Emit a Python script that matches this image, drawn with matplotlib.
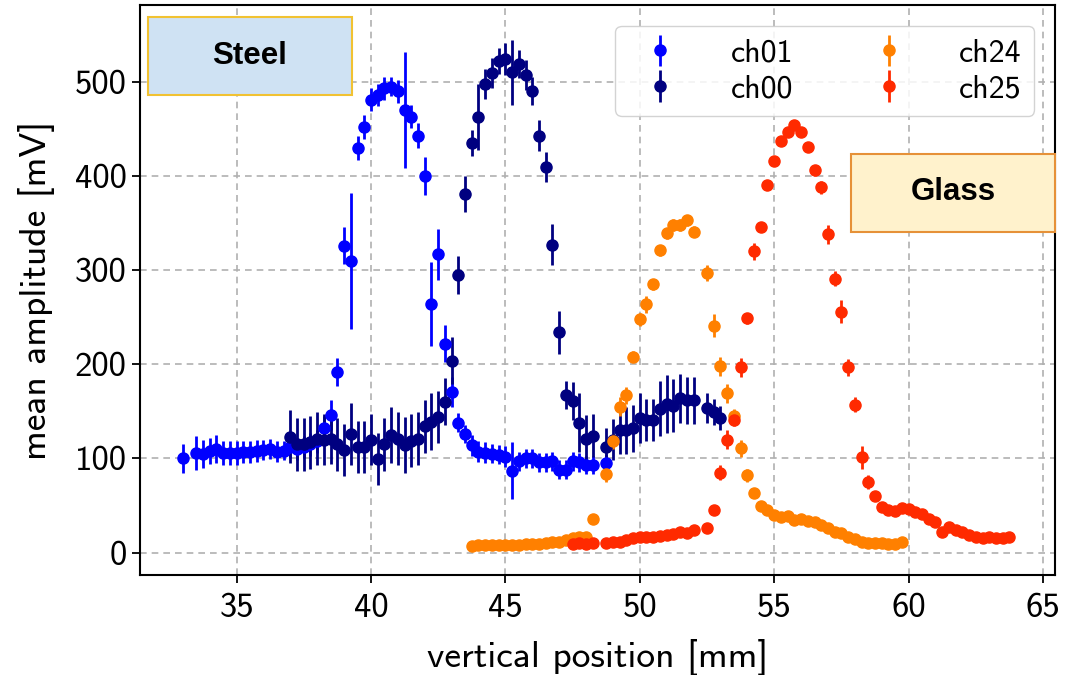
import numpy as np
import matplotlib.pyplot as plt
from matplotlib.patches import Rectangle

plt.rcParams['font.family'] = ['cmss10', 'DejaVu Sans']
plt.rcParams['axes.unicode_minus'] = False

# ch01 (blue)
x_ch01 = [33.0, 33.5, 33.75, 34.0, 34.25, 34.5, 34.75, 35.0, 35.25, 35.5, 35.75, 36.0, 36.25, 36.5, 36.75,
          37.0, 37.25, 37.5, 37.75, 38.0, 38.25, 38.5, 38.75, 39.0, 39.25, 39.5, 39.75, 40.0, 40.25, 40.5,
          40.75, 41.0, 41.25, 41.5, 41.75, 42.0, 42.25, 42.5, 42.75, 43.0, 43.25, 43.5, 43.75, 44.0, 44.25,
          44.5, 44.75, 45.0, 45.25, 45.5, 45.75, 46.0, 46.25, 46.5, 46.75, 47.0, 47.25, 47.5, 47.75, 48.0,
          48.25, 48.75]
y_ch01 = [100, 106, 105, 108, 110, 106, 106, 106, 107, 107, 108, 109, 110, 107, 108,
          112, 110, 112, 115, 118, 132, 146, 192, 326, 310, 430, 452, 481, 486, 493,
          495, 490, 470, 463, 443, 400, 264, 317, 222, 171, 138, 126, 114, 107, 106,
          105, 104, 102, 87, 97, 100, 100, 96, 96, 97, 88, 88, 97, 96, 93,
          93, 95]
e_ch01 = [15, 18, 15, 14, 15, 13, 13, 13, 12, 12, 12, 11, 11, 11, 10,
          12, 12, 12, 12, 12, 13, 16, 15, 20, 72, 13, 13, 12, 12, 12,
          10, 12, 62, 12, 13, 20, 45, 27, 20, 16, 10, 10, 11, 11, 11,
          10, 10, 11, 30, 10, 10, 10, 10, 10, 10, 10, 10, 10, 10, 10,
          10, 10]

# ch00 (navy)
x_ch00 = [37.0, 37.25, 37.5, 37.75, 38.0, 38.25, 38.5, 38.75, 39.0, 39.25, 39.5, 39.75, 40.0, 40.25, 40.5,
          40.75, 41.0, 41.25, 41.5, 41.75, 42.0, 42.25, 42.5, 42.75, 43.0, 43.25, 43.5, 43.75, 44.0, 44.25,
          44.5, 44.75, 45.0, 45.25, 45.5, 45.75, 46.0, 46.25, 46.5, 46.75, 47.0, 47.25, 47.5, 47.75, 48.0,
          48.25, 48.75, 49.0, 49.25, 49.5, 49.75, 50.0, 50.25, 50.5, 50.75, 51.0, 51.25, 51.5, 51.75, 52.0,
          52.5, 52.75, 53.0]
y_ch00 = [123, 115, 115, 117, 121, 120, 121, 115, 109, 126, 112, 112, 120, 99.5, 115,
          125, 121, 114, 119, 121, 134, 139, 144, 160, 204, 295, 381, 435, 463, 498,
          509, 522, 524, 510, 519, 507, 490, 443, 410, 327, 234, 167, 161, 138, 121,
          124, 112, 120, 130, 130, 132, 143, 141, 141, 153, 158, 156, 164, 162, 162,
          154, 149, 143]
e_ch00 = [28, 28, 28, 28, 28, 27, 27, 28, 28, 33, 28, 28, 27, 28, 28,
          30, 28, 30, 28, 28, 28, 30, 28, 25, 25, 20, 19, 14, 35, 16,
          16, 14, 17, 35, 15, 16, 15, 16, 16, 22, 23, 15, 20, 31, 25,
          23, 20, 22, 25, 25, 25, 27, 22, 22, 29, 31, 28, 26, 25, 25,
          16, 14, 13]

# ch24 (orange)
x_ch24 = [43.75, 44.0, 44.25, 44.5, 44.75, 45.0, 45.25, 45.5, 45.75, 46.0, 46.25, 46.5, 46.75, 47.0, 47.25,
          47.5, 47.75, 48.0, 48.25, 48.75, 49.0, 49.25, 49.5, 49.75, 50.0, 50.25, 50.5, 50.75, 51.0, 51.25,
          51.5, 51.75, 52.0, 52.5, 52.75, 53.0, 53.25, 53.5, 53.75, 54.0, 54.25, 54.5, 54.75, 55.0, 55.25,
          55.5, 55.75, 56.0, 56.25, 56.5, 56.75, 57.0, 57.25, 57.5, 57.75, 58.0, 58.25, 58.5, 58.75, 59.0,
          59.25, 59.5, 59.75]
y_ch24 = [7, 7.5, 7.5, 8, 8, 8, 8.5, 8.5, 9, 9, 9.5, 10, 11, 11, 13,
          15, 17, 17, 36, 83, 118, 155, 167, 208, 248, 264, 285, 321, 339, 348,
          348, 353, 341, 297, 241, 198, 169, 145, 111, 82, 63, 49.5, 45, 40, 38,
          38.5, 35, 36, 34, 32, 29, 26, 22, 21, 17, 14, 11.5, 10, 10, 10,
          9.5, 9.5, 11.5]
e_ch24 = [2, 2, 2, 2, 2, 2, 2, 2, 2, 2, 2, 2, 2, 2, 2,
          2, 2, 2, 3, 8, 8, 10, 9, 6, 7, 9, 6, 6, 6, 6,
          6, 6, 6, 8, 12, 10, 10, 8, 9, 7, 5, 4, 3, 3, 3,
          3, 3, 3, 3, 3, 3, 3, 3, 3, 3, 3, 3, 2, 2, 2,
          2, 2, 2]

# ch25 (red)
x_ch25 = [47.5, 47.75, 48.0, 48.25, 48.75, 49.0, 49.25, 49.5, 49.75, 50.0, 50.25, 50.5, 50.75, 51.0, 51.25,
          51.5, 51.75, 52.0, 52.5, 52.75, 53.0, 53.25, 53.5, 53.75, 54.0, 54.25, 54.5, 54.75, 55.0, 55.25,
          55.5, 55.75, 56.0, 56.25, 56.5, 56.75, 57.0, 57.25, 57.5, 57.75, 58.0, 58.25, 58.5, 58.75, 59.0,
          59.25, 59.5, 59.75, 60.0, 60.25, 60.5, 60.75, 61.0, 61.25, 61.5, 61.75, 62.0, 62.25, 62.5, 62.75,
          63.0, 63.25, 63.5, 63.75]
y_ch25 = [9, 10, 9, 10, 10, 11.5, 11.5, 13, 15, 16, 17, 16, 18, 19, 20,
          22, 21, 24, 26, 45, 85, 120, 141, 197, 249, 320, 346, 390, 416, 437,
          447, 454, 447, 431, 406, 388, 338, 291, 256, 197, 157, 101, 75, 60, 48.7,
          45, 44, 47, 46, 43.4, 41, 35.6, 32, 22, 26.8, 24, 21.7, 18.6, 17, 15.5,
          16, 15.5, 15, 16]
e_ch25 = [2, 2, 2, 2, 2, 2, 2, 2, 2, 2, 2, 2, 2, 2, 2,
          2, 2, 2, 3, 5, 8, 10, 7, 10, 6, 9, 5, 5, 4, 4,
          3, 3, 3, 4, 6, 7, 10, 8, 12, 9, 8, 12, 7, 4, 3,
          3, 3, 3, 3, 3, 3, 3, 3, 3, 3, 3, 3, 2, 2, 2,
          2, 2, 2, 2]

fig = plt.figure(figsize=(10.75, 6.75), dpi=100)
ax = fig.add_axes([0.130, 0.148, 0.851, 0.845])

series = [
    (x_ch01, y_ch01, e_ch01, '#0000ff', 'ch01'),
    (x_ch00, y_ch00, e_ch00, '#000080', 'ch00'),
    (x_ch24, y_ch24, e_ch24, '#ff8000', 'ch24'),
    (x_ch25, y_ch25, e_ch25, '#ff2a00', 'ch25'),
]
for x, y, e, col, lab in series:
    ax.errorbar(x, y, yerr=e, fmt='o', color=col, ms=8, elinewidth=2, capsize=0, label=lab)

ax.set_xlim(31.4, 65.43)
ax.set_ylim(-24, 582)
ax.set_xticks([35, 40, 45, 50, 55, 60, 65])
ax.set_yticks([0, 100, 200, 300, 400, 500])
ax.grid(True, linestyle=(0, (4, 3)), color='#b0b0b0', linewidth=1.2)
ax.tick_params(labelsize=25, width=1.3, length=6)
ax.tick_params(axis='x', pad=7)
for s in ax.spines.values():
    s.set_linewidth(1.5)
ax.set_xlabel('vertical position [mm]', fontsize=27, labelpad=11)
ax.set_ylabel('mean amplitude [mV]', fontsize=27, labelpad=14)

ax.legend(ncol=2, loc='upper right', bbox_to_anchor=(1 - 1 / 915, 1 - 2 / 570), fontsize=23,
          handletextpad=1.2, columnspacing=2.0, labelspacing=0.2,
          borderaxespad=0.6, framealpha=0.85, edgecolor='#cccccc')

# annotation boxes
fig.add_artist(Rectangle((0.1377, 0.8593), 0.1898, 0.1156, transform=fig.transFigure,
                         facecolor='#cfe2f3', edgecolor='#f1c232', linewidth=1.5))
fig.text(0.2326, 0.917, 'Steel', fontsize=22.5, fontweight='bold', family='Liberation Sans',
         ha='center', va='center')
fig.add_artist(Rectangle((0.7916, 0.6563), 0.1898, 0.1156, transform=fig.transFigure,
                         facecolor='#fff2cc', edgecolor='#e69138', linewidth=1.5))
fig.text(0.8865, 0.7156, 'Glass', fontsize=22.5, fontweight='bold', family='Liberation Sans',
         ha='center', va='center')

fig.savefig('out.png', dpi=100)
